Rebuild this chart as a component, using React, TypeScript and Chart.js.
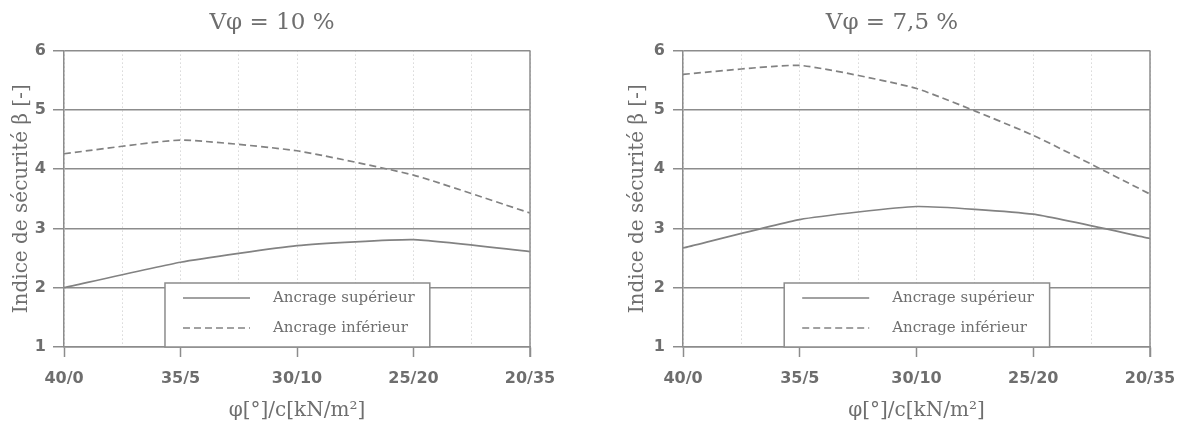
import React, { useEffect, useRef } from "react";
import { Chart, registerables } from "chart.js";

Chart.register(...registerables);

// ---- data ----
const categories = ["40/0", "35/5", "30/10", "25/20", "20/35"];
const superieurLeft = [2.0, 2.43, 2.71, 2.81, 2.61];
const inferieurLeft = [4.26, 4.49, 4.31, 3.9, 3.26];
const superieurRight = [2.67, 3.15, 3.37, 3.24, 2.83];
const inferieurRight = [5.6, 5.75, 5.36, 4.57, 3.58];
const panelTitles = ["Vφ = 10 %", "Vφ = 7,5 %"];
const seriesLabels = ["Ancrage supérieur", "Ancrage inférieur"];
const yAxisTitle = "Indice de sécurité β [-]";
const xAxisTitle = "φ[°]/c[kN/m²]";
const yMin = 1;
const yMax = 6;

// ---- styles ----
const TEXT = "#6e6e6e";
const GRID = "#8c8c8c";
const MINOR = "#c4c4c4";
const SERIES = "#828282";

const boxLegend = {
  id: "boxLegend",
  afterDatasetsDraw(chart: any) {
    const { ctx, chartArea: ca } = chart;
    const w = ca.right - ca.left;
    const left = ca.left + 0.2167 * w;
    const right = ca.left + 0.785 * w;
    const top = ca.bottom - 64;
    const bottom = ca.bottom;
    ctx.save();
    // right frame line
    ctx.strokeStyle = GRID;
    ctx.lineWidth = 1.5;
    ctx.beginPath();
    ctx.moveTo(ca.right, ca.top);
    ctx.lineTo(ca.right, ca.bottom + 10);
    ctx.stroke();
    // legend box
    ctx.fillStyle = "#ffffff";
    ctx.fillRect(left, top, right - left, bottom - top);
    ctx.strokeStyle = GRID;
    ctx.lineWidth = 1.5;
    ctx.strokeRect(left, top, right - left, bottom - top);
    chart.data.datasets.forEach((ds: any, i: number) => {
      const y = top + 15 + i * 30;
      ctx.setLineDash(ds.borderDash || []);
      ctx.strokeStyle = ds.borderColor;
      ctx.lineWidth = ds.borderWidth;
      ctx.beginPath();
      ctx.moveTo(left + 18, y);
      ctx.lineTo(left + 85, y);
      ctx.stroke();
      ctx.setLineDash([]);
      ctx.fillStyle = TEXT;
      ctx.font = "15px 'DejaVu Serif'";
      ctx.textBaseline = "middle";
      ctx.textAlign = "left";
      ctx.fillText(ds.label, left + 108, y);
    });
    ctx.restore();
  },
};

type PanelCfg = {
  padLeft: number;
  padRight: number;
  yWidth: number;
  yTick: number;
  yPad: number;
  yTitlePad: number;
};

function Panel(props: {
  title: string;
  sup: number[];
  inf: number[];
  cfg: PanelCfg;
  left: number;
}) {
  const ref = useRef<HTMLCanvasElement>(null);
  useEffect(() => {
    const { cfg } = props;
    const chart = new Chart(ref.current as HTMLCanvasElement, {
      type: "line",
      data: {
        datasets: [
          {
            label: seriesLabels[0],
            data: props.sup.map((y, i) => ({ x: i, y })),
            borderColor: SERIES,
            borderWidth: 1.7,
            pointRadius: 0,
            tension: 0.15,
            fill: false,
          },
          {
            label: seriesLabels[1],
            data: props.inf.map((y, i) => ({ x: i, y })),
            borderColor: SERIES,
            borderWidth: 1.7,
            borderDash: [7, 4],
            pointRadius: 0,
            tension: 0.15,
            fill: false,
          },
        ],
      },
      options: {
        responsive: false,
        animation: false,
        devicePixelRatio: 1,
        layout: { padding: { left: cfg.padLeft, right: cfg.padRight, top: 0, bottom: 0 } },
        plugins: {
          legend: { display: false },
          tooltip: { enabled: false },
          title: {
            display: true,
            text: props.title,
            color: TEXT,
            font: { family: "'DejaVu Serif'", size: 23, weight: "normal" },
            padding: { top: 9, bottom: 14 },
          },
        },
        scales: {
          x: {
            type: "linear",
            min: 0,
            max: categories.length - 1,
            ticks: {
              stepSize: 0.5,
              autoSkip: false,
              maxRotation: 0,
              padding: 12,
              color: TEXT,
              font: { family: "'DejaVu Sans'", size: 16, weight: "bold" },
              callback: (v: any) => (Number.isInteger(v) ? categories[v] : ""),
            },
            grid: {
              color: MINOR,
              lineWidth: 1,
              tickLength: 10,
              tickWidth: 1.5,
              tickColor: (c: any) =>
                c.tick && Number.isInteger(c.tick.value) ? GRID : "rgba(0,0,0,0)",
            },
            border: { display: true, color: GRID, width: 1.5, dash: [1, 3] },
            title: {
              display: true,
              text: xAxisTitle,
              color: TEXT,
              font: { family: "'DejaVu Serif'", size: 20 },
              padding: { top: 0, bottom: -2 },
            },
            afterFit: (s: any) => {
              s.height = 74;
              s.paddingLeft = 0;
              s.paddingRight = 0;
            },
          },
          y: {
            min: yMin,
            max: yMax,
            ticks: {
              stepSize: 1,
              padding: cfg.yPad,
              color: TEXT,
              font: { family: "'DejaVu Sans'", size: 16, weight: "bold" },
            },
            grid: {
              color: GRID,
              lineWidth: 1.5,
              tickLength: cfg.yTick,
              tickColor: GRID,
            },
            border: { display: true, color: GRID, width: 1.5 },
            title: {
              display: true,
              text: yAxisTitle,
              color: TEXT,
              font: { family: "'DejaVu Serif'", size: 20 },
              padding: { top: cfg.yTitlePad, bottom: 0 },
            },
            afterFit: (s: any) => {
              s.width = cfg.yWidth;
            },
          },
        },
      } as any,
      plugins: [boxLegend],
    });
    return () => chart.destroy();
  }, []);
  return (
    <div style={{ position: "absolute", left: props.left, top: 0, width: 589, height: 421 }}>
      <canvas ref={ref} width={589} height={421} style={{ display: "block", width: 589, height: 421 }} />
    </div>
  );
}

const leftCfg: PanelCfg = { padLeft: 14, padRight: 59, yWidth: 50, yTick: 11, yPad: 7, yTitlePad: -4 };
const rightCfg: PanelCfg = { padLeft: 45, padRight: 28, yWidth: 49, yTick: 10, yPad: 8, yTitlePad: -8 };

export default function App() {
  return (
    <div
      style={{
        position: "fixed",
        left: 0,
        top: 0,
        width: 1178,
        height: 421,
        background: "#ffffff",
        overflow: "hidden",
      }}
    >
      <Panel title={panelTitles[0]} sup={superieurLeft} inf={inferieurLeft} cfg={leftCfg} left={0} />
      <Panel title={panelTitles[1]} sup={superieurRight} inf={inferieurRight} cfg={rightCfg} left={589} />
    </div>
  );
}
